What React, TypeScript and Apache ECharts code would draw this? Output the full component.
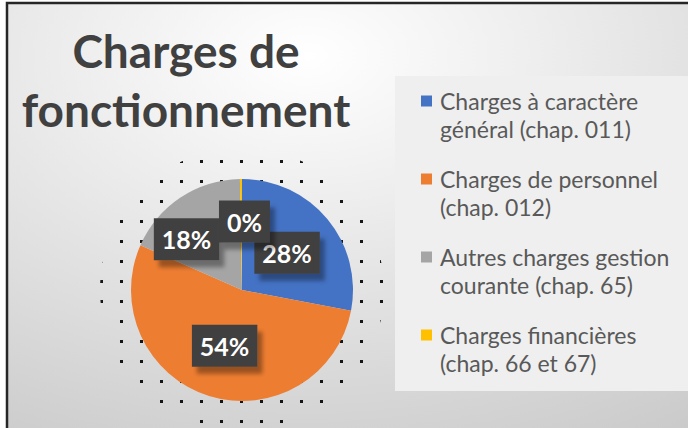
import React, { useEffect, useRef } from 'react';
import * as echarts from 'echarts';

// ---- data ----
const categories = [
  'Charges à caractère\ngénéral (chap. 011)',
  'Charges de personnel\n(chap. 012)',
  'Autres charges gestion\ncourante (chap. 65)',
  'Charges financières\n(chap. 66 et 67)',
];
const shares = [28.0, 53.6, 18.1, 0.3];
const sliceColors = ['#4472C4', '#ED7D31', '#A5A5A5', '#FFC000'];
const titleLines = ['Charges de', 'fonctionnement'];
const shadowRing = [1];

// label nudges (style only), per slice index
const labelNudge: [number, number][] = [[0, 0], [0, 0], [-23, -2], [3, -10]];

const FONT = 'Lato, "Open Sans", sans-serif';

export default function App() {
  const ref = useRef<HTMLDivElement>(null);
  useEffect(() => {
    if (!ref.current) return;
    const chart = echarts.init(ref.current, undefined, { renderer: 'svg' });
    const center = [242, 290];

    const rich: Record<string, any> = {
      g: { width: 8 },
      ind: { width: 19 },
      t: { fontSize: 23, fontFamily: FONT, color: '#595959', lineHeight: 28 },
    };
    sliceColors.forEach((c, i) => {
      rich['m' + i] = { width: 11, height: 11, backgroundColor: c };
    });

    chart.setOption({
      animation: false,
      graphic: [
        { type: 'rect', z: -20, silent: true, shape: { x: 0, y: 0, width: 688, height: 428 }, style: { fill: '#ffffff' } },
        {
          type: 'rect', z: -19, silent: true,
          shape: { x: 7, y: 3, width: 700, height: 440 },
          style: {
            fill: new echarts.graphic.RadialGradient(0.43, 0.12, 1.05, [
              { offset: 0, color: '#ffffff' },
              { offset: 1, color: '#c8c8c8' },
            ]),
            stroke: '#262626', lineWidth: 2.5,
          },
        },
        { type: 'rect', z: -18, silent: true, shape: { x: 395, y: 76, width: 300, height: 315 }, style: { fill: '#efefef' } },
        {
          type: 'text', z: 10, silent: true, x: 186, y: 21,
          style: {
            text: titleLines.join('\n'), fill: '#404040',
            fontFamily: FONT, fontWeight: 'bold', fontSize: 46, lineHeight: 59,
            textAlign: 'center', verticalAlign: 'top',
          },
        },
      ],
      legend: {
        orient: 'vertical', left: 416, top: 87, padding: 0,
        itemWidth: 0, itemHeight: 0, itemGap: 22, icon: 'rect',
        itemStyle: { opacity: 0 }, selectedMode: false,
        data: categories,
        formatter: (name: string) => {
          const i = categories.indexOf(name);
          const [a, b] = name.split('\n');
          return `{m${i}|}{g|}{t|${a}}\n{ind|}{t|${b}}`;
        },
        textStyle: { rich, fontFamily: FONT, fontSize: 23, color: '#595959', lineHeight: 28 },
      },
      series: [
        {
          type: 'pie', silent: true, z: 1, center, radius: [108, 142],
          label: { show: false }, labelLine: { show: false },
          data: shadowRing.map((v) => ({
            value: v, name: '_ring',
            itemStyle: {
              color: 'rgba(0,0,0,0)',
              decal: { symbol: 'rect', symbolSize: 1, color: 'rgba(0,0,0,0.9)', dashArrayX: [3, 17], dashArrayY: [3, 17], rotation: 0 },
            },
          })),
        },
        {
          type: 'pie', z: 2, center, radius: 111, startAngle: 90, clockwise: true,
          silent: true, emphasis: { disabled: true },
          data: categories.map((n, i) => ({ name: n, value: shares[i], itemStyle: { color: sliceColors[i] } })),
          labelLine: { show: false },
          label: {
            show: true, position: 'inside',
            formatter: (p: any) => `${Math.round(p.percent)}%`,
            color: '#ffffff', fontFamily: FONT, fontWeight: 'bold', fontSize: 25,
            backgroundColor: '#404040', padding: [9, 8, 8, 8],
            shadowColor: 'rgba(0,0,0,0.35)', shadowBlur: 4, shadowOffsetX: 5, shadowOffsetY: 7,
          },
          labelLayout: (params: any) => ({ dx: labelNudge[params.dataIndex][0], dy: labelNudge[params.dataIndex][1] }),
        },
      ],
    });
    return () => chart.dispose();
  }, []);
  return <div ref={ref} style={{ position: 'absolute', left: 0, top: 0, width: 688, height: 428 }} />;
}
